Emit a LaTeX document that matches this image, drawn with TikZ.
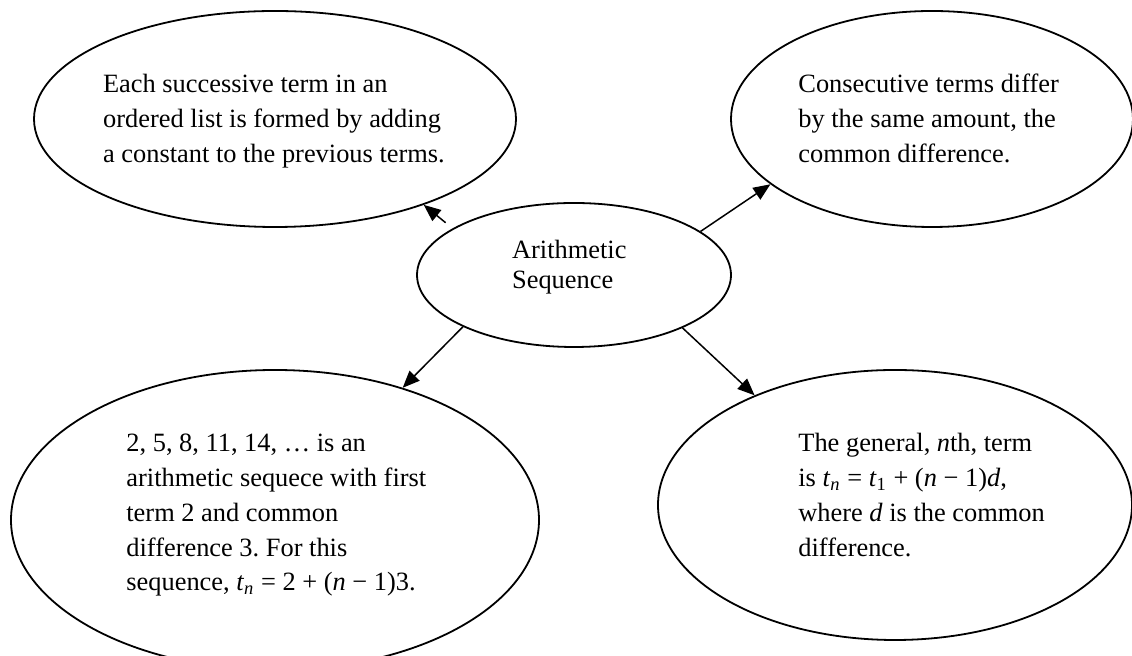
\documentclass[tikz,border=0pt]{standalone}
\usepackage{fontspec}
\setmainfont{Liberation Serif}
\usetikzlibrary{shapes.geometric,arrows.meta}
\newcommand{\txtblock}[2]{\parbox[t]{300pt}{\fontsize{13.2pt}{#1}\selectfont\frenchspacing\raggedright #2}}
\begin{document}
\begin{tikzpicture}[x=0.5pt,y=-0.5pt,
  bubble/.style={ellipse, draw=black, line width=0.9pt, inner sep=0pt},
  arr/.style={line width=0.75pt, -{Triangle[length=8.5pt,width=7pt]}},
  txt/.style={anchor=base west, inner sep=0pt}]
\useasboundingbox (0,0) rectangle (1132,656);
\fill[white] (0,0) rectangle (1132,656);
% ellipses
\node[bubble, minimum width=241pt, minimum height=108pt] (tl) at (275,119) {};
\node[bubble, minimum width=201pt, minimum height=108pt] (tr) at (932,119) {};
\node[bubble, minimum width=157pt, minimum height=72pt] (c) at (574,275) {};
\node[bubble, minimum width=264pt, minimum height=150pt] (bl) at (275,520) {};
\node[bubble, minimum width=237pt, minimum height=135pt] (br) at (895,505) {};
% texts
\node[txt] (ttl) at (102.7,92.7) {\txtblock{17.35pt}{Each successive term in an\\ordered list is formed by adding\\a constant to the previous terms.}};
\node[txt] (ttr) at (798,92.7) {\txtblock{17.35pt}{Consecutive terms differ\\by the same amount, the\\common difference.}};
\node[txt] (tc) at (511.7,259) {\txtblock{14.75pt}{Arithmetic\\Sequence}};
\node[txt] (tbl) at (126,452) {\txtblock{17.35pt}{2, 5, 8, 11, 14, … is an\\arithmetic sequece with first\\term 2 and common\\difference 3. For this\\sequence, \textit{t}\textsubscript{\textit{n}} = 2 + (\textit{n} − 1)3.}};
\node[txt] (tbr) at (798,452) {\txtblock{17.35pt}{The general, \textit{n}th, term\\is \textit{t}\textsubscript{\textit{n}} = \textit{t}\textsubscript{1} + (\textit{n} − 1)\textit{d},\\where \textit{d} is the common\\difference.}};
% connectors
\draw[arr, shorten <=4.5pt] (c.159.9) -- (tl.-30);
\draw[arr] (c.19.8) -- (tr.-158.5);
\draw[arr] (c.-155.8) -- (bl.46.4);
\draw[arr] (c.-26) -- (br.142);
\end{tikzpicture}
\end{document}
